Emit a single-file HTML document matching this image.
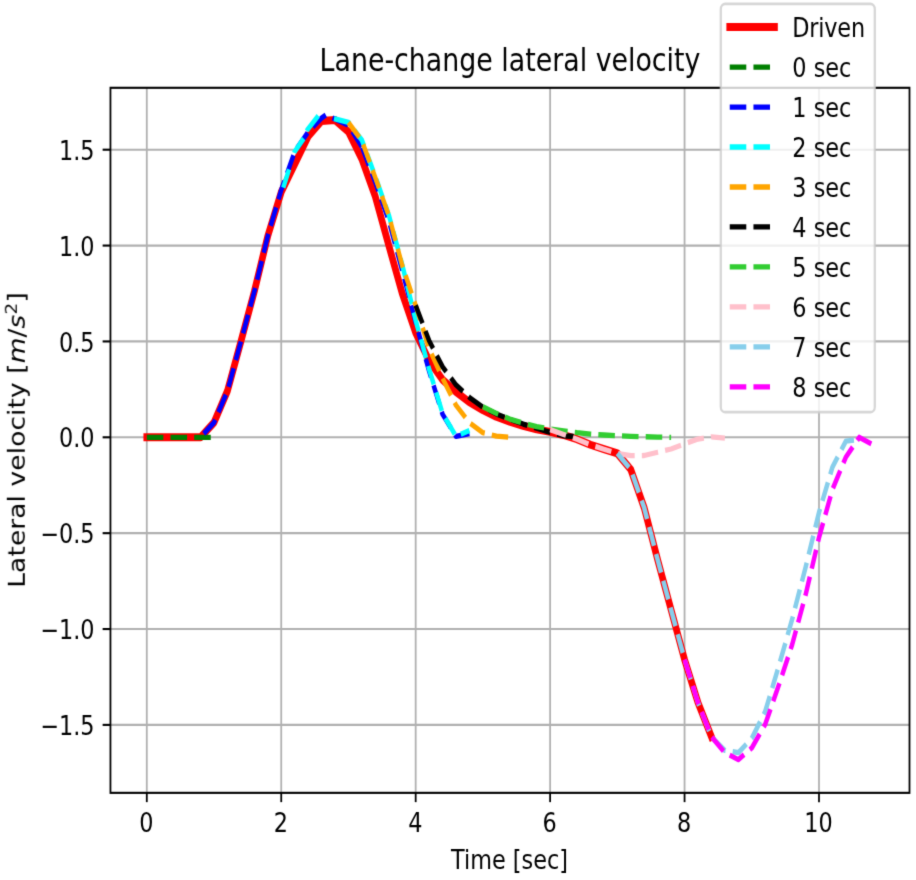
<!DOCTYPE html>
<html lang="en"><head><meta charset="utf-8"><title>Lane-change lateral velocity</title>
<style>html,body{margin:0;padding:0;background:#fff}svg{display:block}text{font-family:"DejaVu Sans","Liberation Sans",sans-serif;fill:#000}</style></head><body>
<svg width="916" height="880" viewBox="0 0 916 880">
<defs><filter id="soft" x="0" y="0" width="916" height="880" filterUnits="userSpaceOnUse" color-interpolation-filters="sRGB"><feConvolveMatrix order="3" kernelMatrix="1 6 1 6 36 6 1 6 1" divisor="64" edgeMode="duplicate" preserveAlpha="true"/></filter></defs>
<g filter="url(#soft)">
<rect width="916" height="880" fill="#fff"/>
<g transform="scale(2.236,2.65)" fill="none">
<g stroke="#b0b0b0" stroke-width="0.8">
<line x1="65.653" y1="33.132" x2="65.653" y2="299.189"/>
<line x1="125.778" y1="33.132" x2="125.778" y2="299.189"/>
<line x1="185.903" y1="33.132" x2="185.903" y2="299.189"/>
<line x1="246.029" y1="33.132" x2="246.029" y2="299.189"/>
<line x1="306.154" y1="33.132" x2="306.154" y2="299.189"/>
<line x1="366.279" y1="33.132" x2="366.279" y2="299.189"/>
<line x1="49.396" y1="56.492" x2="406.753" y2="56.492"/>
<line x1="49.396" y1="92.668" x2="406.753" y2="92.668"/>
<line x1="49.396" y1="128.843" x2="406.753" y2="128.843"/>
<line x1="49.396" y1="165.019" x2="406.753" y2="165.019"/>
<line x1="49.396" y1="201.194" x2="406.753" y2="201.194"/>
<line x1="49.396" y1="237.370" x2="406.753" y2="237.370"/>
<line x1="49.396" y1="273.545" x2="406.753" y2="273.545"/>
</g>
<polyline points="65.653,165.019 71.665,165.019 77.678,165.019 83.691,165.019 89.703,165.019 95.716,159.448 101.728,147.510 107.741,128.843 113.753,109.960 119.766,89.050 125.778,72.482 131.791,61.991 137.803,51.500 143.816,45.640 149.828,45.278 155.841,49.764 161.853,60.110 167.866,74.218 173.878,92.668 179.891,110.756 185.903,125.588 191.916,136.078 197.928,143.314 203.941,147.872 209.953,151.779 215.966,154.745 221.979,157.277 227.991,159.086 234.004,160.750 240.016,162.052 246.029,162.993 252.041,164.151 258.054,165.742 264.066,167.841 270.079,169.505 276.091,171.096 282.104,177.174 288.116,191.644 294.129,211.251 300.141,230.135 306.154,248.874 312.166,265.153 318.179,278.031" stroke="#ff0000" stroke-width="3" stroke-linecap="square" stroke-linejoin="round"/>
<polyline points="65.653,165.019 71.665,165.019 77.678,165.019 83.691,165.019 89.703,165.019 95.716,165.019" stroke="#008000" stroke-width="2" stroke-dasharray="7.4 3.2" stroke-dashoffset="0" stroke-linejoin="round"/>
<polyline points="89.703,165.019 95.716,159.448 101.728,147.510 107.741,128.843 113.753,109.960 119.766,89.050 125.778,71.686 131.798,57.208 136.002,52.000 137.791,49.849 143.828,44.528 145.707,43.358 149.821,44.906 155.841,47.232 161.853,55.407" stroke="#0000ff" stroke-width="2" stroke-dasharray="7.4 3.2" stroke-dashoffset="8.645" stroke-linejoin="round"/>
<polyline points="161.853,55.407 167.866,68.792 173.878,83.262 179.891,102.074 185.903,121.608 191.916,140.058 197.928,156.337 203.941,164.657 209.953,163.644" stroke="#0000ff" stroke-width="2" stroke-dasharray="7.4 3.2" stroke-dashoffset="10.339" stroke-linejoin="round"/>
<polyline points="126.680,70.818 131.798,57.208 136.002,52.000 137.478,48.981 142.352,43.660" stroke="#00ffff" stroke-width="2" stroke-dasharray="7.4 6.6 6.9 3.2 30 30" stroke-dashoffset="0" stroke-linejoin="round"/>
<polyline points="149.374,44.755 155.841,46.146 161.853,52.875 167.866,66.622 173.878,81.092 179.891,99.903 185.903,120.885 191.916,139.334 197.928,155.975 203.941,164.657 209.953,162.487" stroke="#00ffff" stroke-width="2" stroke-dasharray="7.4 3.2" stroke-dashoffset="0" stroke-linejoin="round"/>
<polyline points="155.841,46.219 161.853,53.164 167.866,67.056 173.878,81.309 179.891,100.192 185.903,115.241 191.916,131.520 197.928,142.735 203.941,152.936 209.953,159.520 215.966,163.282 221.979,164.585 227.991,165.019" stroke="#ffa500" stroke-width="2" stroke-dasharray="7.4 3.2" stroke-dashoffset="0" stroke-linejoin="round"/>
<polyline points="185.903,115.241 191.916,128.554 197.928,138.394 203.941,145.267 209.953,149.970 215.966,153.660 221.979,156.192 227.991,158.290 234.004,160.027 240.016,161.618 246.029,163.138 252.041,164.440 258.054,164.802" stroke="#000000" stroke-width="2" stroke-dasharray="7.4 3.2" stroke-dashoffset="0" stroke-linejoin="round"/>
<polyline points="215.966,153.515 221.979,155.975 227.991,158.146 234.004,159.665 240.016,160.967 246.029,161.908 252.041,162.631 258.054,163.282 264.066,163.789 270.079,164.151 276.091,164.440 282.104,164.657 288.116,164.802 294.129,164.947 300.141,165.019" stroke="#32cd32" stroke-width="2" stroke-dasharray="7.4 3.2" stroke-dashoffset="0" stroke-linejoin="round"/>
<polyline points="246.029,162.125 252.041,163.934 258.054,165.742 264.066,167.841 270.079,169.505 276.091,171.096 282.104,171.965 288.116,171.892 294.129,170.662 300.141,169.432 306.154,167.479 312.166,165.670 318.179,164.874 324.191,165.308" stroke="#ffc0cb" stroke-width="2" stroke-dasharray="7.4 3.2" stroke-dashoffset="0" stroke-linejoin="round"/>
<polyline points="276.091,171.096 282.104,177.174 288.116,191.644 294.129,211.251 300.141,230.135 306.154,248.874 312.166,265.153 318.179,278.031 324.191,283.168 330.204,284.036 336.216,278.610 342.229,268.481 348.242,251.478 354.254,233.752 360.267,214.145 366.279,193.380 372.292,176.233 378.304,166.466 384.317,165.887" stroke="#87ceeb" stroke-width="2" stroke-dasharray="7.4 3.2" stroke-dashoffset="0" stroke-linejoin="round"/>
<polyline points="306.154,248.874 312.166,265.153 318.179,278.031 324.191,284.036 330.204,286.641 336.216,282.227 342.229,273.328 348.242,258.713 354.254,243.303 360.267,224.564 366.279,202.858 372.292,184.698 378.304,172.471 384.317,165.019 390.329,167.768" stroke="#ff00ff" stroke-width="2" stroke-dasharray="7.4 3.2" stroke-dashoffset="0" stroke-linejoin="round"/>
<g stroke="#000" stroke-width="0.8">
<line x1="65.653" y1="299.189" x2="65.653" y2="302.689"/>
<line x1="125.778" y1="299.189" x2="125.778" y2="302.689"/>
<line x1="185.903" y1="299.189" x2="185.903" y2="302.689"/>
<line x1="246.029" y1="299.189" x2="246.029" y2="302.689"/>
<line x1="306.154" y1="299.189" x2="306.154" y2="302.689"/>
<line x1="366.279" y1="299.189" x2="366.279" y2="302.689"/>
<line x1="49.396" y1="56.492" x2="45.896" y2="56.492"/>
<line x1="49.396" y1="92.668" x2="45.896" y2="92.668"/>
<line x1="49.396" y1="128.843" x2="45.896" y2="128.843"/>
<line x1="49.396" y1="165.019" x2="45.896" y2="165.019"/>
<line x1="49.396" y1="201.194" x2="45.896" y2="201.194"/>
<line x1="49.396" y1="237.370" x2="45.896" y2="237.370"/>
<line x1="49.396" y1="273.545" x2="45.896" y2="273.545"/>
</g>
<rect x="49.396" y="33.132" width="357.357" height="266.057" stroke="#000" stroke-width="0.8" stroke-linejoin="miter"/>
<g font-size="10" fill="#000" stroke="none">
<text x="65.474" y="313.925" text-anchor="middle">0</text>
<text x="125.599" y="313.925" text-anchor="middle">2</text>
<text x="185.725" y="313.925" text-anchor="middle">4</text>
<text x="245.850" y="313.925" text-anchor="middle">6</text>
<text x="305.975" y="313.925" text-anchor="middle">8</text>
<text x="366.100" y="313.925" text-anchor="middle">10</text>
<text x="42.308" y="60.304" text-anchor="end">1.5</text>
<text x="42.308" y="96.479" text-anchor="end">1.0</text>
<text x="42.308" y="132.655" text-anchor="end">0.5</text>
<text x="42.308" y="168.830" text-anchor="end">0.0</text>
<text x="42.308" y="205.006" text-anchor="end">−0.5</text>
<text x="42.308" y="241.181" text-anchor="end">−1.0</text>
<text x="42.308" y="277.357" text-anchor="end">−1.5</text>
<text x="227.862" y="327.925" text-anchor="middle">Time [sec]</text>
<text transform="translate(11.047,166.038) rotate(-90)" text-anchor="middle" letter-spacing="0.035">Lateral velocity [<tspan font-style="oblique">m</tspan>/<tspan font-style="oblique">s</tspan><tspan font-size="7" dy="-3.6">2</tspan><tspan dy="3.6">]</tspan></text>
<text x="228.086" y="26.868" text-anchor="middle" font-size="12">Lane-change lateral velocity</text>
</g>
<rect x="322.361" y="1.472" width="68.873" height="154.075" rx="2" ry="2" fill="#fff" fill-opacity="0.8" stroke="#ccc" stroke-opacity="0.8" stroke-width="1"/>
<line x1="326.364" y1="10.226" x2="346.364" y2="10.226" stroke="#ff0000" stroke-width="3" stroke-linecap="square"/>
<line x1="326.364" y1="25.309" x2="346.364" y2="25.309" stroke="#008000" stroke-width="2" stroke-dasharray="7.4 3.2"/>
<line x1="326.364" y1="40.392" x2="346.364" y2="40.392" stroke="#0000ff" stroke-width="2" stroke-dasharray="7.4 3.2"/>
<line x1="326.364" y1="55.475" x2="346.364" y2="55.475" stroke="#00ffff" stroke-width="2" stroke-dasharray="7.4 3.2"/>
<line x1="326.364" y1="70.558" x2="346.364" y2="70.558" stroke="#ffa500" stroke-width="2" stroke-dasharray="7.4 3.2"/>
<line x1="326.364" y1="85.642" x2="346.364" y2="85.642" stroke="#000000" stroke-width="2" stroke-dasharray="7.4 3.2"/>
<line x1="326.364" y1="100.725" x2="346.364" y2="100.725" stroke="#32cd32" stroke-width="2" stroke-dasharray="7.4 3.2"/>
<line x1="326.364" y1="115.808" x2="346.364" y2="115.808" stroke="#ffc0cb" stroke-width="2" stroke-dasharray="7.4 3.2"/>
<line x1="326.364" y1="130.891" x2="346.364" y2="130.891" stroke="#87ceeb" stroke-width="2" stroke-dasharray="7.4 3.2"/>
<line x1="326.364" y1="145.974" x2="346.364" y2="145.974" stroke="#ff00ff" stroke-width="2" stroke-dasharray="7.4 3.2"/>
<g font-size="10" fill="#000" stroke="none">
<text x="354.364" y="14.038" letter-spacing="-0.09">Driven</text>
<text x="354.364" y="29.121">0 sec</text>
<text x="354.364" y="44.204">1 sec</text>
<text x="354.364" y="59.287">2 sec</text>
<text x="354.364" y="74.370">3 sec</text>
<text x="354.364" y="89.453">4 sec</text>
<text x="354.364" y="104.536">5 sec</text>
<text x="354.364" y="119.619">6 sec</text>
<text x="354.364" y="134.702">7 sec</text>
<text x="354.364" y="149.785">8 sec</text>
</g>
</g></g></svg></body></html>
